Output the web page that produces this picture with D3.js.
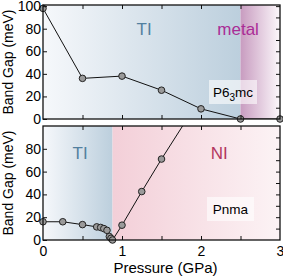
<!DOCTYPE html>
<html>
<head>
<meta charset="utf-8">
<script src="https://cdn.jsdelivr.net/npm/d3@7"></script>
<style>
  body { margin: 0; background: #fff; }
  svg { display: block; font-family: "Liberation Sans", Arial, sans-serif; }
</style>
</head>
<body>
<svg id="chart" width="283" height="279"></svg>
<script>
// pressure (GPa) / band gap (meV)
const hexP = [0, 0.5, 1, 1.5, 2, 2.5, 3];
const hexGap = [98, 36, 38, 25.5, 9, 0, 0];
const orthoP = [0, 0.25, 0.5, 0.68, 0.73, 0.77, 0.81, 0.84, 0.86, 0.88, 1, 1.25, 1.5, 1.85];
const orthoGap = [16, 16, 13.5, 11.5, 11, 10, 8.5, 3, 1.5, 0, 13, 42.5, 71, 109];
const xTicks = [0, 1, 2, 3];
const hexTicks = [0, 20, 40, 60, 80, 100];
const orthoTicks = [0, 20, 40, 60, 80];
const hexPhases = [{ name: 'TI', from: 0, to: 2.5 }, { name: 'metal', from: 2.5, to: 3 }];
const orthoPhases = [{ name: 'TI', from: 0, to: 0.88 }, { name: 'NI', from: 0.88, to: 3 }];

const svg = d3.select('#chart');
const defs = svg.append('defs');

function grad(id, c0, c1) {
  const g = defs.append('linearGradient').attr('id', id)
    .attr('x1', '0%').attr('x2', '100%').attr('y1', '0%').attr('y2', '0%');
  g.append('stop').attr('offset', '0%').attr('stop-color', c0);
  g.append('stop').attr('offset', '100%').attr('stop-color', c1);
}
grad('gTI', '#f6f8fb', '#bccfdd');
grad('gMetal', '#c89cc0', '#fcf8fb');
grad('gNI', '#f3cfd8', '#fcf3f5');

const phaseFill = { TI: 'url(#gTI)', metal: 'url(#gMetal)', NI: 'url(#gNI)' };
const phaseColor = { TI: '#52809f', metal: '#aa2c96', NI: '#b3375f' };

const x = d3.scaleLinear().domain([0, 3]).range([43, 280]);

function panel(top, bottom, yMax, px, gap, ticks, phases, opts) {
  const y = d3.scaleLinear().domain([0, yMax]).range([bottom, top]);
  const g = svg.append('g');
  const clipId = 'clip' + top;
  defs.append('clipPath').attr('id', clipId).append('rect')
    .attr('x', x(0)).attr('y', top).attr('width', x(3) - x(0)).attr('height', bottom - top);

  g.selectAll('rect.phase').data(phases).enter().append('rect')
    .attr('x', d => x(d.from)).attr('y', top)
    .attr('width', d => x(d.to) - x(d.from)).attr('height', bottom - top)
    .attr('fill', d => phaseFill[d.name]);

  g.selectAll('text.phase').data(phases).enter().append('text')
    .attr('x', d => x(opts.labelX[d.name])).attr('y', opts.labelY)
    .attr('text-anchor', 'middle').attr('font-size', 17)
    .attr('fill', d => phaseColor[d.name]).text(d => d.name);

  // structure label box
  const lb = g.append('g').attr('transform', `translate(${opts.boxX},${opts.boxY})`);
  lb.append('rect').attr('x', 0).attr('y', 0).attr('width', opts.boxW).attr('height', 24)
    .attr('fill', '#fff').attr('fill-opacity', 0.6);
  const t = lb.append('text').attr('x', opts.boxW / 2).attr('y', 17)
    .attr('text-anchor', 'middle').attr('font-size', 13.5).attr('fill', '#000');
  opts.label(t);

  const pts = px.map((p, i) => [p, gap[i]]);
  g.append('path').datum(pts).attr('clip-path', `url(#${clipId})`)
    .attr('fill', 'none').attr('stroke', '#111').attr('stroke-width', 1)
    .attr('d', d3.line().x(d => x(d[0])).y(d => y(d[1])));
  g.selectAll('circle').data(pts.filter(d => d[1] <= yMax)).enter().append('circle')
    .attr('cx', d => x(d[0])).attr('cy', d => y(d[1])).attr('r', 3.3)
    .attr('fill', '#9a9a9a').attr('stroke', '#222').attr('stroke-width', 1);

  // axes, ticks inward
  const yl = d3.axisLeft(y).tickValues(ticks)
    .tickSizeInner(-4).tickSizeOuter(0).tickPadding(2).tickFormat(d3.format('d'));
  const yr = d3.axisRight(y).tickValues(d3.range(10, yMax, 10))
    .tickSizeInner(-4).tickSizeOuter(0).tickFormat('');
  const xb = d3.axisBottom(x).tickValues(d3.range(0.5, 3, 0.5))
    .tickSizeInner(-4).tickSizeOuter(0).tickFormat('');
  const xt = d3.axisTop(x).tickValues(d3.range(0.5, 3, 0.5))
    .tickSizeInner(-4).tickSizeOuter(0).tickFormat('');

  const ay = g.append('g').attr('transform', `translate(${x(0)},0)`).call(yl);
  ay.selectAll('text').attr('font-size', 14).attr('fill', '#000')
    .attr('font-family', '"Liberation Sans", Arial, sans-serif');
  g.append('g').attr('transform', `translate(${x(3)},0)`).call(yr);
  g.append('g').attr('transform', `translate(0,${bottom})`).call(xb);
  g.append('g').attr('transform', `translate(0,${top})`).call(xt);
  g.selectAll('.domain').remove();
  g.selectAll('.tick line').attr('stroke', '#111');

  g.append('rect').attr('x', x(0)).attr('y', top).attr('width', x(3) - x(0)).attr('height', bottom - top)
    .attr('fill', 'none').attr('stroke', '#111').attr('stroke-width', 1.3);

  g.append('text').attr('transform', `translate(13,${(top + bottom) / 2}) rotate(-90)`)
    .attr('text-anchor', 'middle').attr('font-size', 14).text('Band Gap (meV)');

  return y;
}

panel(5, 119, 101, hexP, hexGap, hexTicks, hexPhases, {
  labelX: { TI: 1.28, metal: 2.47 }, labelY: 35,
  boxX: 209, boxY: 80, boxW: 48,
  label: t => {
    t.append('tspan').text('P6');
    t.append('tspan').attr('font-size', 10).attr('dy', 4).text('3');
    t.append('tspan').attr('dy', -4).text('mc');
  }
});

panel(126, 240, 100, orthoP, orthoGap, orthoTicks, orthoPhases, {
  labelX: { TI: 0.47, NI: 2.23 }, labelY: 159,
  boxX: 207, boxY: 197, boxW: 47,
  label: t => t.text('Pnma')
});

// bottom x axis labels
const xa = svg.append('g').attr('transform', 'translate(0,240)')
  .call(d3.axisBottom(x).tickValues(xTicks).tickSize(0).tickPadding(6).tickFormat(d3.format('d')));
xa.select('.domain').remove();
xa.selectAll('text').attr('font-size', 14).attr('fill', '#000')
  .attr('font-family', '"Liberation Sans", Arial, sans-serif');

svg.append('text').attr('x', x(1.5) + 4).attr('y', 273).attr('text-anchor', 'middle')
  .attr('font-size', 15).text('Pressure (GPa)');
</script>
</body>
</html>
